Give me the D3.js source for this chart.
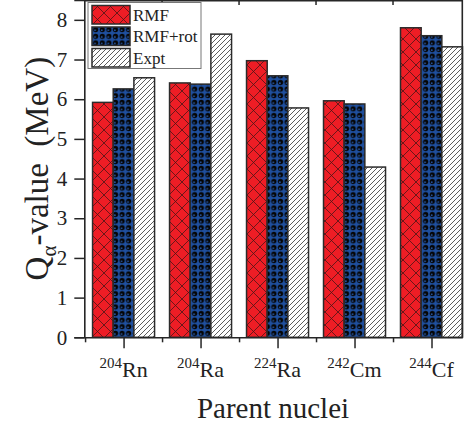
<!DOCTYPE html>
<html><head><meta charset="utf-8">
<script src="https://cdn.jsdelivr.net/npm/d3@7"></script>
<style>body{margin:0;background:#fff}svg{display:block}</style>
</head><body><svg id="c" width="467" height="425"></svg>
<script>
// ---- data ----
const massNumbers = ["204", "204", "224", "242", "244"];
const elements = ["Rn", "Ra", "Ra", "Cm", "Cf"];
const rmf = [5.92, 6.41, 6.97, 5.96, 7.80];
const rmfRot = [6.26, 6.38, 6.59, 5.88, 7.60];
const expt = [6.54, 7.64, 5.78, 4.29, 7.32];
const seriesNames = ["RMF", "RMF+rot", "Expt"];
const yTicks = [0, 1, 2, 3, 4, 5, 6, 7, 8];

const series = [rmf, rmfRot, expt];
const fills = ["url(#pRMF)", "url(#pROT)", "url(#pEXP)"];

const svg = d3.select("#c");
const FONT = "'Liberation Serif','Times New Roman',serif";
const AX = "#262626";

// ---- patterns ----
const defs = svg.append("defs");
{
  const p = defs.append("pattern").attr("id", "pRMF").attr("patternUnits", "userSpaceOnUse")
    .attr("width", 13).attr("height", 13);
  p.append("rect").attr("width", 13).attr("height", 13).attr("fill", "#ee1d25");
  p.append("path").attr("d", "M0,0L13,13M13,0L0,13M-1,12L1,14M12,-1L14,1")
    .attr("stroke", "#4a1515").attr("stroke-width", 0.8).attr("fill", "none");
}
{
  const s = 6.6;
  const p = defs.append("pattern").attr("id", "pROT").attr("patternUnits", "userSpaceOnUse")
    .attr("width", s).attr("height", s);
  p.append("rect").attr("width", s).attr("height", s).attr("fill", "#1f4f9e");
  p.append("circle").attr("cx", s / 2).attr("cy", s / 2).attr("r", 2.6).attr("fill", "#050505");
  p.append("circle").attr("cx", s / 2 - 0.6).attr("cy", s / 2 + 0.6).attr("r", 0.9).attr("fill", "#2a5aa8");
}
{
  const s = 5;
  const p = defs.append("pattern").attr("id", "pEXP").attr("patternUnits", "userSpaceOnUse")
    .attr("width", s).attr("height", s);
  p.append("rect").attr("width", s).attr("height", s).attr("fill", "#ffffff");
  p.append("path").attr("d", `M0,${s}L${s},0M-1,1L1,-1M${s - 1},${s + 1}L${s + 1},${s - 1}`)
    .attr("stroke", "#333").attr("stroke-width", 0.8).attr("fill", "none");
}

// ---- scales ----
const x = d3.scaleLinear().domain([0.49, 5.4]).range([84.3, 462.3]);
const y = d3.scaleLinear().domain([0, 8.5]).range([337.3, 0]);
const bw = 0.2685;

// ---- bars ----
series.forEach((vals, k) => {
  svg.append("g").selectAll("rect").data(vals).join("rect")
    .attr("x", (d, i) => x(i + 1 + (k - 1.5) * bw))
    .attr("width", (d, i) => x(i + 1 + (k - 0.5) * bw) - x(i + 1 + (k - 1.5) * bw))
    .attr("y", d => y(d))
    .attr("height", d => y(0) - y(d))
    .attr("fill", fills[k])
    .attr("stroke", "#2b2b2b").attr("stroke-width", 1.5);
});

// ---- frame ----
svg.append("line").attr("x1", x.range()[0]).attr("x2", x.range()[1]).attr("y1", 0.8).attr("y2", 0.8)
  .attr("stroke", AX).attr("stroke-width", 1.6);
svg.append("line").attr("x1", x.range()[1]).attr("x2", x.range()[1]).attr("y1", 0).attr("y2", y(0))
  .attr("stroke", AX).attr("stroke-width", 1.6);
// top minor ticks (inward)
svg.append("g").selectAll("line").data([1.5, 2.5, 3.5, 4.5]).join("line")
  .attr("x1", d => x(d)).attr("x2", d => x(d)).attr("y1", 0).attr("y2", 5)
  .attr("stroke", AX).attr("stroke-width", 1.5);

// ---- axes ----
const yAxis = svg.append("g").attr("transform", `translate(${x.range()[0]},0)`)
  .call(d3.axisLeft(y).tickValues(yTicks).tickSize(10).tickPadding(7).tickFormat(d3.format("d")));
yAxis.select(".domain").attr("stroke", AX).attr("stroke-width", 1.6);
yAxis.selectAll(".tick line").attr("stroke", AX).attr("stroke-width", 1.5);
yAxis.selectAll("text").attr("font-family", FONT).attr("font-size", 21).attr("fill", "#222");

const xMinor = svg.append("g").attr("transform", `translate(0,${y(0)})`)
  .call(d3.axisBottom(x).tickValues([0.5, 1.5, 2.5, 3.5, 4.5]).tickSize(5).tickFormat(""));
xMinor.select(".domain").remove();
xMinor.selectAll(".tick line").attr("stroke", AX).attr("stroke-width", 1.5);

const xAxis = svg.append("g").attr("transform", `translate(0,${y(0)})`)
  .call(d3.axisBottom(x).tickValues([1, 2, 3, 4, 5]).tickSize(11).tickSizeOuter(0).tickFormat(""));
xAxis.select(".domain").attr("stroke", AX).attr("stroke-width", 1.6);
xAxis.selectAll(".tick line").attr("stroke", AX).attr("stroke-width", 1.5);

// x tick labels with superscript
const lab = svg.append("g").selectAll("text").data(elements).join("text")
  .attr("x", (d, i) => x(i + 1)).attr("y", 377).attr("text-anchor", "middle")
  .attr("font-family", FONT).attr("fill", "#222");
lab.append("tspan").attr("font-size", 15).attr("dy", -9).text((d, i) => massNumbers[i]);
lab.append("tspan").attr("font-size", 22).attr("dy", 9).text(d => d);

// axis titles
svg.append("text").attr("x", 273).attr("y", 418).attr("text-anchor", "middle")
  .attr("font-family", FONT).attr("font-size", 29).attr("fill", "#222").text("Parent nuclei");
const yt = svg.append("text").attr("transform", `translate(48,${y(0) / 2}) rotate(-90)`)
  .attr("text-anchor", "middle").attr("font-family", FONT).attr("font-size", 33).attr("fill", "#222");
yt.append("tspan").text("Q");
yt.append("tspan").attr("font-size", 21).attr("dy", 8).text("α");
yt.append("tspan").attr("dy", -8).attr("xml:space", "preserve").text("-value  (MeV)");

// ---- legend ----
const lg = svg.append("g");
lg.append("rect").attr("x", 88).attr("y", 2.5).attr("width", 113).attr("height", 66)
  .attr("fill", "#fff").attr("stroke", "#777").attr("stroke-width", 1);
seriesNames.forEach((name, k) => {
  const yy = 5.5 + k * 21.5;
  lg.append("rect").attr("x", 92).attr("y", yy).attr("width", 38).attr("height", 18.5)
    .attr("fill", fills[k]).attr("stroke", "#2b2b2b").attr("stroke-width", 1.5);
  lg.append("text").attr("x", 133).attr("y", yy + 15).attr("font-family", FONT)
    .attr("font-size", 17).attr("fill", "#222").text(name);
});
</script></body></html>
